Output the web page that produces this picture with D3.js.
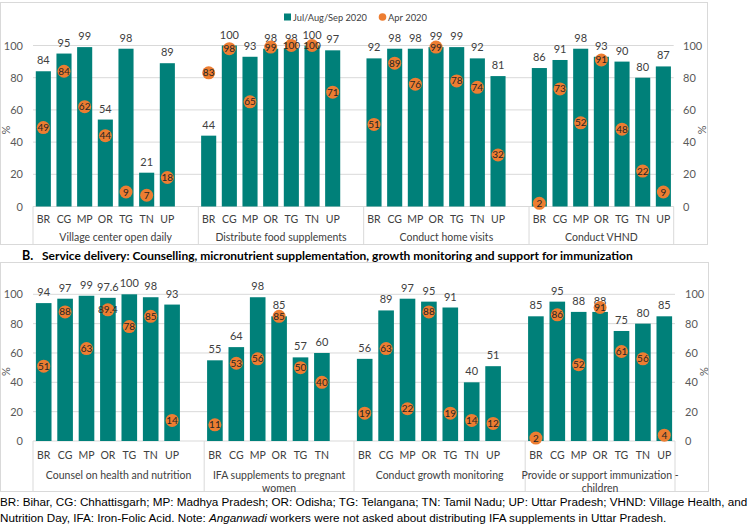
<!DOCTYPE html>
<html>
<head>
<meta charset="utf-8">
<script src="https://cdn.jsdelivr.net/npm/d3@7"></script>
<style>
  html, body { margin: 0; padding: 0; background: #fff; }
  svg { display: block; }
</style>
</head>
<body>
<svg id="chart" width="749" height="524"></svg>
<script>
// ---------- DATA ----------
const states = ["BR", "CG", "MP", "OR", "TG", "TN", "UP"];
const seriesNames = ["Jul/Aug/Sep 2020", "Apr 2020"];
const yTicks = [0, 20, 40, 60, 80, 100];

// Panel A
const topGroups = ["Village center open daily", "Distribute food supplements", "Conduct home visits", "Conduct VHND"];
const topJul = [
  [84, 95, 99, 54, 98, 21, 89],
  [44, 100, 93, 98, 98, 100, 97],
  [92, 98, 98, 99, 99, 92, 81],
  [86, 91, 98, 93, 90, 80, 87]
];
const topApr = [
  [49, 84, 62, 44, 9, 7, 18],
  [83, 98, 65, 99, 100, 100, 71],
  [51, 89, 76, 99, 78, 74, 32],
  [2, 73, 52, 91, 48, 22, 9]
];
const topBlank = [1, 1, 1, 0];

// Panel B
const panelBTitle = "Service delivery: Counselling, micronutrient supplementation, growth monitoring and support for immunization";
const bottomGroups = [["Counsel on health and nutrition"], ["IFA supplements to pregnant", "women"], ["Conduct growth monitoring"], ["Provide or support immunization -", "children"]];
const bottomStates = [states, states.slice(0, 6), states, states];
const bottomJul = [
  [94, 97, 99, 97.6, 100, 98, 93],
  [55, 64, 98, 85, 57, 60],
  [56, 89, 97, 95, 91, 40, 51],
  [85, 95, 88, 88, 75, 80, 85]
];
const bottomApr = [
  [51, 88, 63, 89.4, 78, 85, 14],
  [11, 53, 56, 85, 50, 40],
  [19, 63, 22, 88, 19, 14, 12],
  [2, 86, 52, 91, 61, 56, 4]
];
const bottomBlank = [1, 1, 1, 0];

const footer1 = "BR: Bihar, CG: Chhattisgarh; MP:  Madhya Pradesh; OR: Odisha; TG: Telangana; TN: Tamil Nadu; UP: Uttar Pradesh; VHND: Village Health, and";
const footer2a = "Nutrition Day, IFA: Iron-Folic Acid. Note: ";
const footer2b = "Anganwadi";
const footer2c = " workers were not asked about distributing IFA supplements in Uttar Pradesh.";

// ---------- STYLE ----------
const TEAL = "#008079";
const ORANGE = "#ED7D31";
const GRID = "#D9D9D9";
const TXT = "#404040";
const FONT = "Lato, 'Open Sans', sans-serif";

const svg = d3.select("#chart");

function fitWidth(t, target) {
  const w = t.node().getComputedTextLength();
  const fs = +t.attr("font-size");
  t.attr("font-size", fs * target / w);
}

function drawPanel(opt) {
  const g = svg.append("g");
  // frame
  g.append("rect").attr("x", opt.frame[0]).attr("y", opt.frame[1])
    .attr("width", opt.frame[2] - opt.frame[0]).attr("height", opt.frame[3] - opt.frame[1])
    .attr("fill", "none").attr("stroke", GRID).attr("stroke-width", 1);

  // slot domain
  const slots = [];
  const groupSlots = [];
  opt.groups.forEach((grp, gi) => {
    const st = opt.states[gi];
    const keys = st.map(s => gi + "-" + s);
    for (let b = 0; b < opt.blank[gi]; b++) keys.push(gi + "-blank" + b);
    groupSlots.push(keys);
    slots.push(...keys);
  });
  const x = d3.scaleBand().domain(slots).range([opt.x0, opt.x1]).paddingInner(0.27).paddingOuter(0.135);
  const y = d3.scaleLinear().domain([0, 100]).range([opt.y0, opt.y100]);
  const step = x.step();

  // gridlines
  g.append("g").selectAll("line").data(yTicks.filter(t => t > 0)).join("line")
    .attr("x1", opt.x0).attr("x2", opt.x1)
    .attr("y1", d => y(d)).attr("y2", d => y(d))
    .attr("stroke", GRID).attr("stroke-width", 1);
  // baseline
  g.append("line").attr("x1", opt.x0).attr("x2", opt.x1).attr("y1", y(0)).attr("y2", y(0))
    .attr("stroke", GRID);

  // axes (left & right)
  const left = g.append("g").attr("transform", `translate(${opt.x0 - 10},0)`)
    .call(d3.axisLeft(y).tickValues(yTicks).tickSize(0).tickPadding(0));
  left.select(".domain").remove();
  left.selectAll("text").attr("font-family", FONT).attr("font-size", 11).attr("fill", "#595959");
  const right = g.append("g").attr("transform", `translate(${opt.rightX},0)`)
    .call(d3.axisRight(y).tickValues(yTicks).tickSize(0).tickPadding(0));
  right.select(".domain").remove();
  right.selectAll("text").attr("font-family", FONT).attr("font-size", 11).attr("fill", "#595959");

  const midY = (y(0) + y(100)) / 2 + 4;
  g.append("text").attr("transform", `translate(10,${midY}) rotate(-90)`)
    .attr("text-anchor", "middle").attr("font-family", FONT).attr("font-size", 11).attr("fill", "#595959").text("%");
  g.append("text").attr("transform", `translate(${opt.rightX + 15},${midY}) rotate(90)`)
    .attr("text-anchor", "middle").attr("font-family", FONT).attr("font-size", 11).attr("fill", "#595959").text("%");

  // dividers
  const bounds = [];
  let acc = 0;
  bounds.push(opt.x0);
  groupSlots.forEach(k => { acc += k.length; bounds.push(opt.x0 + acc * step); });
  g.append("g").selectAll("line").data(bounds).join("line")
    .attr("x1", d => d).attr("x2", d => d)
    .attr("y1", y(0)).attr("y2", opt.frame[3])
    .attr("stroke", GRID);

  opt.groups.forEach((grp, gi) => {
    const st = opt.states[gi];
    const data = st.map((s, i) => ({ key: gi + "-" + s, s, jul: opt.jul[gi][i], apr: opt.apr[gi][i] }));
    const gg = g.append("g");
    gg.selectAll("rect.bar").data(data).join("rect").attr("class", "bar")
      .attr("x", d => x(d.key)).attr("width", x.bandwidth())
      .attr("y", d => y(d.jul)).attr("height", d => y(0) - y(d.jul))
      .attr("fill", TEAL);
    gg.selectAll("text.bl").data(data).join("text").attr("class", "bl")
      .attr("x", d => x(d.key) + x.bandwidth() / 2).attr("y", d => y(d.jul) - 7)
      .attr("text-anchor", "middle").attr("font-family", FONT).attr("font-size", 11).attr("fill", TXT)
      .text(d => d.jul);
    gg.selectAll("circle").data(data).join("circle")
      .attr("cx", d => x(d.key) + x.bandwidth() / 2).attr("cy", d => y(d.apr))
      .attr("r", 6.5).attr("fill", ORANGE);
    gg.selectAll("text.dl").data(data).join("text").attr("class", "dl")
      .attr("x", d => x(d.key) + x.bandwidth() / 2).attr("y", d => y(d.apr) + 3.5)
      .attr("text-anchor", "middle").attr("font-family", FONT).attr("font-size", 10).attr("fill", "#262626")
      .text(d => d.apr);
    gg.selectAll("text.cat").data(data).join("text").attr("class", "cat")
      .attr("x", d => x(d.key) + x.bandwidth() / 2).attr("y", opt.catY)
      .attr("text-anchor", "middle").attr("font-family", FONT).attr("font-size", 10.5).attr("fill", TXT)
      .text(d => d.s);
    const cx = (bounds[gi] + bounds[gi + 1]) / 2;
    const lines = Array.isArray(grp) ? grp : [grp];
    gg.selectAll("text.grp").data(lines).join("text").attr("class", "grp")
      .attr("x", cx).attr("y", (d, i) => opt.grpY + i * 13)
      .attr("text-anchor", "middle").attr("font-family", FONT).attr("font-size", 10.5).attr("fill", TXT)
      .text(d => d);
  });
}

drawPanel({
  frame: [0.5, 2.5, 707.5, 244.5],
  groups: topGroups, states: [states, states, states, states],
  jul: topJul, apr: topApr, blank: topBlank,
  x0: 33, x1: 673.7, y0: 206.5, y100: 45.5, rightX: 683,
  catY: 223, grpY: 244 - 3
});

drawPanel({
  frame: [0.5, 262.5, 708.5, 491.5],
  groups: bottomGroups, states: bottomStates,
  jul: bottomJul, apr: bottomApr, blank: bottomBlank,
  x0: 33, x1: 675, y0: 441, y100: 294.3, rightX: 685,
  catY: 459, grpY: 479
});

// legend
const lg = svg.append("g");
lg.append("rect").attr("x", 284).attr("y", 13.5).attr("width", 7).attr("height", 7).attr("fill", TEAL);
const l1 = lg.append("text").attr("x", 293).attr("y", 21).attr("font-family", FONT).attr("font-size", 11).attr("fill", TXT).text(seriesNames[0]);
fitWidth(l1, 74);
lg.append("circle").attr("cx", 382.5).attr("cy", 17).attr("r", 3.8).attr("fill", ORANGE);
const l2 = lg.append("text").attr("x", 388).attr("y", 21).attr("font-family", FONT).attr("font-size", 11).attr("fill", TXT).text(seriesNames[1]);
fitWidth(l2, 39);

// Panel B title
svg.append("text").attr("x", 22).attr("y", 259.5).attr("font-family", FONT).attr("font-weight", "bold")
  .attr("font-size", 12.5).attr("fill", "#000").text("B.");
const tt = svg.append("text").attr("x", 42).attr("y", 259.5).attr("font-family", FONT).attr("font-weight", "bold")
  .attr("font-size", 12.5).attr("fill", "#000").text(panelBTitle);
fitWidth(tt, 591);

// footer
const FF = "'Liberation Sans', Arial, sans-serif";
const f1 = svg.append("text").attr("x", 0).attr("y", 505.5).attr("font-family", FF).attr("font-size", 12).attr("fill", "#000").text(footer1);
fitWidth(f1, 748);
const f2 = svg.append("text").attr("x", 0).attr("y", 522).attr("font-family", FF).attr("font-size", f1.attr("font-size")).attr("fill", "#000");
f2.append("tspan").text(footer2a);
f2.append("tspan").attr("font-style", "italic").text(footer2b);
f2.append("tspan").text(footer2c);
</script>
</body>
</html>
